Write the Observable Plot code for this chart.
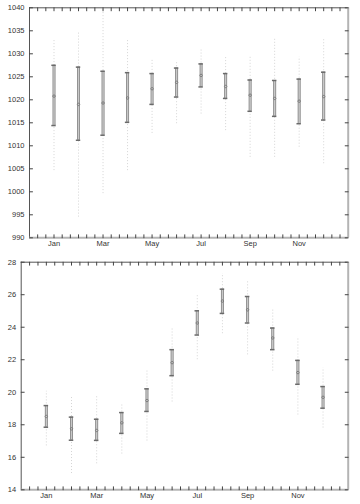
<!DOCTYPE html>
<html>
<head>
<meta charset="utf-8">
<script src="https://cdn.jsdelivr.net/npm/d3@7"></script>
<script src="https://cdn.jsdelivr.net/npm/@observablehq/plot@0.6"></script>
<style>
  html, body { margin: 0; padding: 0; background: #fff; }
  #chart { width: 360px; height: 504px; overflow: hidden; }
  #chart svg { display: block; }
</style>
</head>
<body>
<div id="chart"></div>
<script>
// ---- data ----
const months = [1, 2, 3, 4, 5, 6, 7, 8, 9, 10, 11, 12];
const tickMonths = [1, 3, 5, 7, 9, 11];
const tickLabels = ["Jan", "Mar", "May", "Jul", "Sep", "Nov"];

// top panel (pressure)
const pLow  = [1014.4, 1011.2, 1012.3, 1015.1, 1019.0, 1020.6, 1022.8, 1020.3, 1017.5, 1016.4, 1014.8, 1015.6];
const pMean = [1020.8, 1019.0, 1019.3, 1020.4, 1022.4, 1023.8, 1025.3, 1022.9, 1021.0, 1020.3, 1019.7, 1020.7];
const pHigh = [1027.5, 1027.1, 1026.2, 1025.9, 1025.7, 1026.9, 1027.8, 1025.7, 1024.3, 1024.2, 1024.5, 1026.0];
const pMin  = [1004.6, 994.5, 999.6, 1004.6, 1012.7, 1014.8, 1016.9, 1013.3, 1007.5, 1007.5, 1009.7, 1006.1];
const pMax  = [1033.3, 1034.7, 1040.0, 1032.9, 1028.9, 1028.5, 1031.1, 1029.3, 1029.6, 1033.3, 1029.3, 1033.1];
const pTicks = [990, 995, 1000, 1005, 1010, 1015, 1020, 1025, 1030, 1035, 1040];

// bottom panel (temperature)
const tLow  = [17.85, 17.05, 17.04, 17.47, 18.82, 21.02, 23.52, 24.85, 24.26, 22.62, 20.49, 19.02];
const tMean = [18.51, 17.75, 17.65, 18.12, 19.49, 21.82, 24.26, 25.61, 25.07, 23.34, 21.21, 19.69];
const tHigh = [19.18, 18.47, 18.34, 18.75, 20.21, 22.62, 25.01, 26.34, 25.89, 23.95, 21.96, 20.35];
const tMin  = [16.7, 15.0, 15.6, 16.2, 17.0, 19.4, 22.0, 23.6, 22.3, 21.3, 18.6, 17.8];
const tMax  = [20.06, 19.7, 19.8, 19.3, 21.3, 24.0, 26.0, 27.3, 26.9, 25.1, 23.4, 21.5];
const tTicks = [14, 16, 18, 20, 22, 24, 26, 28];

// ---- helpers ----
const xDomain = [0, 13];
const minorX = d3.range(1, 39).map(i => i / 3);
const tickShape = {draw(ctx, l) { ctx.moveTo(0, 0); ctx.lineTo(0, -l); }};
const TICK = "#444";

function panel({low, mean, high, lo, hi, yDomain, yTicks, height, margins}) {
  const rows = months.map((m, i) => ({m, low: low[i], mean: mean[i], high: high[i], lo: lo[i], hi: hi[i]}));
  const [y0, y1] = yDomain;
  const vec = (data, x, y, rotate, len = 3) =>
    Plot.vector(data, {x, y, rotate, length: len, anchor: "start", shape: tickShape, stroke: TICK, strokeWidth: 1});
  return Plot.plot({
    width: 360,
    height,
    ...margins,
    style: {fontFamily: "'Liberation Sans', Arial, sans-serif", fontSize: "7.5px", color: "#333", background: "#fff"},
    x: {domain: xDomain, ticks: tickMonths, tickFormat: d => tickLabels[tickMonths.indexOf(d)], tickSize: 0, tickPadding: 3, label: null},
    y: {domain: yDomain, ticks: yTicks, tickFormat: d => String(d), tickSize: 0, tickPadding: 5, label: null},
    marks: [
      // whiskers (faint dotted)
      Plot.ruleX(rows, {x: "m", y1: "lo", y2: "hi", stroke: "#d4d4d4", strokeWidth: 1, strokeDasharray: "1,2"}),
      // boxes
      Plot.ruleX(rows, {x: "m", y1: "low", y2: "high", stroke: "#858585", strokeWidth: 3}),
      Plot.ruleX(rows, {x: "m", y1: "low", y2: "high", stroke: "#c8c8c8", strokeWidth: 1.4}),
      Plot.ruleY(rows, {y: "low", x1: d => d.m - 0.09, x2: d => d.m + 0.09, stroke: "#6a6a6a", strokeWidth: 1.5}),
      Plot.ruleY(rows, {y: "high", x1: d => d.m - 0.09, x2: d => d.m + 0.09, stroke: "#6a6a6a", strokeWidth: 1.5}),
      Plot.dot(rows, {x: "m", y: "mean", r: 1.2, stroke: "#777", fill: "#ccc", strokeWidth: 1}),
      // frame: dark left/top, light thick right/bottom
      Plot.ruleX([xDomain[0]], {stroke: "#555", strokeWidth: 1}),
      Plot.ruleY([y1], {stroke: "#555", strokeWidth: 1}),
      Plot.ruleX([xDomain[1]], {stroke: "#b4b4b4", strokeWidth: 2}),
      Plot.ruleY([y0], {stroke: "#b4b4b4", strokeWidth: 2}),
      // inward ticks
      vec(minorX, d => d, () => y0, 0),
      vec(minorX, d => d, () => y1, 180),
      vec(yTicks, () => xDomain[0], d => d, 90),
      vec(yTicks, () => xDomain[1], d => d, -90)
    ]
  });
}

const chart = document.getElementById("chart");
chart.append(panel({
  low: pLow, mean: pMean, high: pHigh, lo: pMin, hi: pMax,
  yDomain: [990, 1040], yTicks: pTicks, height: 250,
  margins: {marginTop: 7.3, marginBottom: 12.7, marginLeft: 29, marginRight: 12.3}
}));
chart.append(panel({
  low: tLow, mean: tMean, high: tHigh, lo: tMin, hi: tMax,
  yDomain: [14, 28], yTicks: tTicks, height: 254,
  margins: {marginTop: 11.7, marginBottom: 14.7, marginLeft: 20.7, marginRight: 12.3}
}));
</script>
</body>
</html>
